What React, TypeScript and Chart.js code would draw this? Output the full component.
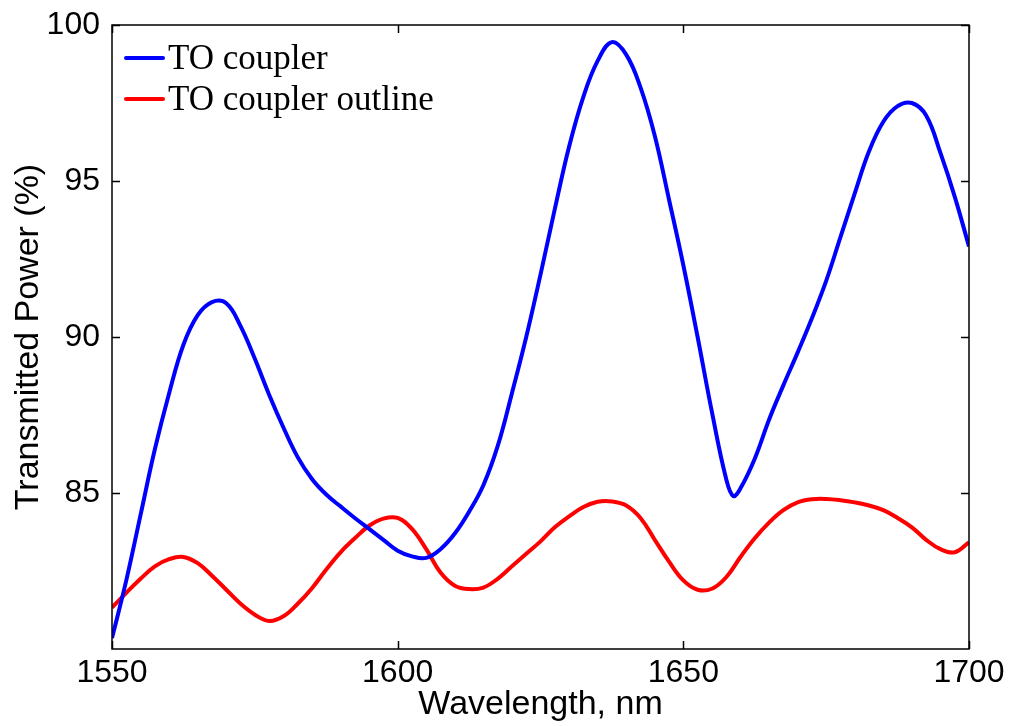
import React, { useEffect, useRef } from "react";
import { Chart, registerables } from "chart.js";

Chart.register(...registerables);

// Wavelength samples (nm) for the TO coupler
const couplerWavelengths = [
  1550, 1552.5, 1555, 1557.5, 1560, 1562.5, 1565, 1567.5, 1570, 1572.5,
  1575, 1577.5, 1580, 1582.5, 1585, 1587.5, 1590, 1592.5, 1595, 1597.5,
  1600, 1602.5, 1605, 1607.5, 1610, 1612.5, 1615, 1617.5, 1620, 1622.5,
  1625, 1627.5, 1630, 1632.5, 1635, 1637.5, 1640, 1642.5, 1645, 1647.5,
  1650, 1652.5, 1655, 1657.5, 1658.75, 1660, 1662.5, 1665, 1667.5, 1670,
  1672.5, 1675, 1677.5, 1680, 1682.5, 1685, 1687.5, 1690, 1692.5, 1695,
  1697.5, 1700,
];

// Transmitted power (%) of the TO coupler
const couplerPower = [
  80.35, 82.2, 84.3, 86.4, 88.2, 89.75, 90.7, 91.12, 91.08, 90.35,
  89.3, 88.15, 87.1, 86.15, 85.45, 84.95, 84.57, 84.2, 83.85, 83.5,
  83.15, 82.97, 82.92, 83.2, 83.7, 84.4, 85.25, 86.5, 88.2, 90.0,
  92.0, 94.1, 96.1, 97.7, 98.85, 99.45, 99.05, 98.0, 96.45, 94.4,
  92.3, 90.0, 87.6, 85.45, 84.9, 85.15, 86.1, 87.35, 88.45, 89.5,
  90.6, 91.8, 93.2, 94.6, 95.95, 96.9, 97.4, 97.5, 97.1, 95.9,
  94.5, 92.9,
];

// Wavelength samples (nm) for the TO coupler outline
const outlineWavelengths = [
  1550, 1552.5, 1555, 1557.5, 1560, 1562.5, 1565, 1567.5, 1570, 1572.5,
  1575, 1577.5, 1580, 1582.5, 1585, 1587.5, 1590, 1592.5, 1595, 1597.5,
  1600, 1602.5, 1605, 1607.5, 1610, 1612.5, 1615, 1617.5, 1620, 1622.5,
  1625, 1627.5, 1630, 1632.5, 1635, 1637.5, 1640, 1642.5, 1645, 1647.5,
  1650, 1652.5, 1655, 1657.5, 1660, 1662.5, 1665, 1667.5, 1670, 1672.5,
  1675, 1677.5, 1680, 1682.5, 1685, 1687.5, 1690, 1692.5, 1695, 1697.5,
  1700,
];

// Transmitted power (%) of the TO coupler outline
const outlinePower = [
  81.33, 81.8, 82.25, 82.65, 82.88, 82.95, 82.75, 82.35, 81.9, 81.45,
  81.1, 80.9, 81.05, 81.45, 81.95, 82.55, 83.1, 83.55, 83.95, 84.18,
  84.2, 83.85, 83.2, 82.45, 82.03, 81.92, 81.97, 82.25, 82.65, 83.05,
  83.45, 83.9, 84.25, 84.55, 84.72, 84.73, 84.6, 84.2, 83.5, 82.8,
  82.2, 81.9, 81.93, 82.3, 82.95, 83.55, 84.05, 84.45, 84.7, 84.8,
  84.81, 84.77, 84.7, 84.6, 84.45, 84.2, 83.9, 83.5, 83.2, 83.1,
  83.42,
];

const xTicks = [1550, 1600, 1650, 1700];
const yTicks = [85, 90, 95, 100];

const seriesLabels = ["TO coupler", "TO coupler outline"];
const seriesColors = ["#0000ff", "#ff0000"];

const W = 1013;
const H = 726;

// Box around the plot area with inward tick marks on all four sides,
// plus the legend in the upper left corner.
const framePlugin = {
  id: "frame",
  afterDatasetsDraw(chart: any) {
    const { ctx, chartArea } = chart;
    const { left, right, top, bottom } = chartArea;
    const xs = chart.scales.x;
    const ys = chart.scales.y;
    const tl = 8;
    ctx.save();
    ctx.strokeStyle = "#000";
    ctx.lineWidth = 1.5;
    ctx.strokeRect(left, top, right - left, bottom - top);
    ctx.beginPath();
    for (const v of xTicks) {
      const px = Math.round(xs.getPixelForValue(v)) + 0.5;
      ctx.moveTo(px, bottom);
      ctx.lineTo(px, bottom - tl);
      ctx.moveTo(px, top);
      ctx.lineTo(px, top + tl);
    }
    for (const v of yTicks) {
      const py = Math.round(ys.getPixelForValue(v)) + 0.5;
      ctx.moveTo(left, py);
      ctx.lineTo(left + tl, py);
      ctx.moveTo(right, py);
      ctx.lineTo(right - tl, py);
    }
    ctx.stroke();

    // legend
    ctx.font = '35px "Liberation Serif", "Times New Roman", serif';
    ctx.textBaseline = "middle";
    ctx.textAlign = "left";
    const rows = [58, 99];
    seriesLabels.forEach((label, i) => {
      const y = rows[i];
      ctx.strokeStyle = seriesColors[i];
      ctx.lineWidth = 4;
      ctx.lineCap = "round";
      ctx.beginPath();
      ctx.moveTo(left + 14, y);
      ctx.lineTo(left + 51, y);
      ctx.stroke();
      ctx.fillStyle = "#000";
      ctx.fillText(label, left + 56, y + 2);
    });
    ctx.restore();
  },
};

export default function App() {
  const canvasRef = useRef<HTMLCanvasElement | null>(null);

  useEffect(() => {
    document.body.style.margin = "0";
    const canvas = canvasRef.current;
    if (!canvas) return;

    const tickFont = { family: '"Liberation Sans", Arial, sans-serif', size: 32 };
    const titleFont = { family: '"Liberation Sans", Arial, sans-serif', size: 34 };

    const chart = new Chart(canvas, {
      type: "line",
      data: {
        datasets: [
          {
            label: seriesLabels[0],
            data: couplerWavelengths.map((x, i) => ({ x, y: couplerPower[i] })),
            borderColor: seriesColors[0],
            borderWidth: 4,
            pointRadius: 0,
            tension: 0.4,
          },
          {
            label: seriesLabels[1],
            data: outlineWavelengths.map((x, i) => ({ x, y: outlinePower[i] })),
            borderColor: seriesColors[1],
            borderWidth: 4,
            pointRadius: 0,
            tension: 0.4,
          },
        ],
      },
      options: {
        responsive: false,
        animation: false,
        layout: { padding: { left: 0, top: 25, right: 44, bottom: 0 } },
        plugins: {
          legend: { display: false },
          tooltip: { enabled: false },
        },
        scales: {
          x: {
            type: "linear",
            min: 1550,
            max: 1700,
            grid: { display: false },
            border: { display: false },
            afterBuildTicks: (s: any) => {
              s.ticks = xTicks.map((v) => ({ value: v }));
            },
            afterFit: (s: any) => {
              s.height = 77;
            },
            ticks: {
              color: "#000",
              font: tickFont,
              padding: -3,
              maxRotation: 0,
              autoSkip: false,
              callback: (v: any) => String(v),
            },
            title: {
              display: true,
              text: "Wavelength, nm",
              color: "#000",
              font: titleFont,
              padding: { top: 0, bottom: 1 },
            },
          },
          y: {
            type: "linear",
            min: 80,
            max: 100,
            grid: { display: false },
            border: { display: false },
            afterBuildTicks: (s: any) => {
              s.ticks = yTicks.map((v) => ({ value: v }));
            },
            afterFit: (s: any) => {
              s.width = 112;
            },
            ticks: {
              color: "#000",
              font: tickFont,
              padding: 4,
              autoSkip: false,
              callback: (v: any) => String(v),
            },
            title: {
              display: true,
              text: "Transmitted Power (%)",
              color: "#000",
              font: titleFont,
              padding: { top: 8, bottom: 0 },
            },
          },
        },
      },
      plugins: [framePlugin],
    });

    return () => chart.destroy();
  }, []);

  return (
    <div style={{ position: "absolute", left: 0, top: 0, width: W, height: H, background: "#fff" }}>
      <canvas ref={canvasRef} width={W} height={H} style={{ width: W, height: H }} />
    </div>
  );
}
